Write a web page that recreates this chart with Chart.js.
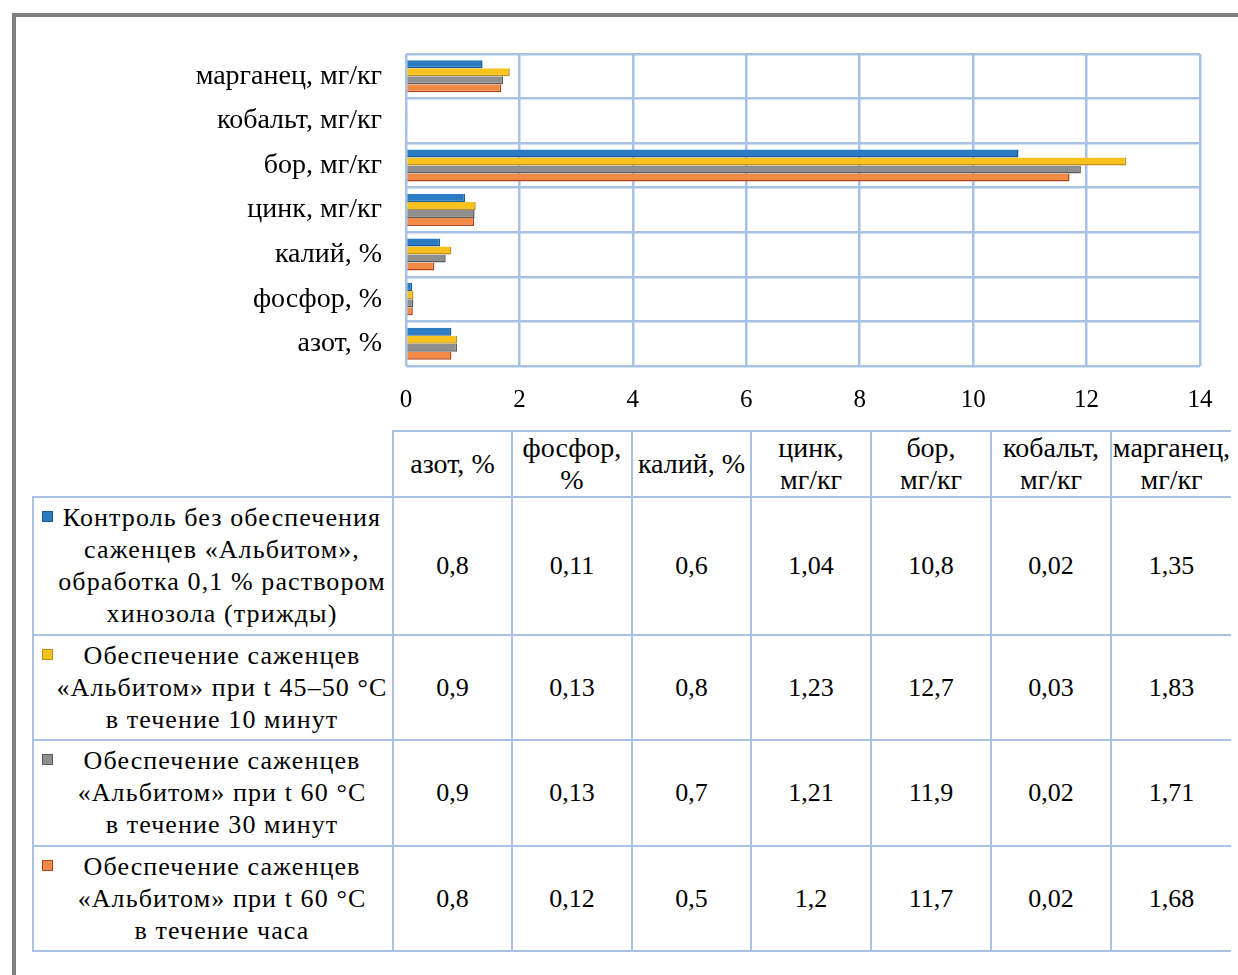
<!DOCTYPE html>
<html lang="ru">
<head>
<meta charset="utf-8">
<script src="https://cdn.jsdelivr.net/npm/chart.js@4.4.1/dist/chart.umd.min.js"></script>
<style>
  html, body { margin: 0; padding: 0; background: #fff; }
  body { width: 1238px; height: 975px; position: relative; overflow: hidden;
         font-family: "Liberation Serif", "Times New Roman", serif; color: #000; }
  .frame-top { position: absolute; left: 12px; top: 13px; width: 1226px; height: 4px; background: #808080; }
  .frame-left { position: absolute; left: 12px; top: 13px; width: 4px; height: 962px; background: #808080; }
  #chartBox { position: absolute; left: 0; top: 0; width: 1238px; height: 425px; }
  table.data { position: absolute; left: 32px; top: 430px; border-collapse: collapse;
               table-layout: fixed; font-size: 26px; line-height: 32px; }
  table.data td, table.data th { border: 2px solid #a8c2e6; padding: 0; text-align: center;
               vertical-align: middle; font-weight: normal; }
  table.data th { font-size: 28px; line-height: 32px; overflow: visible; white-space: normal; }
  table.data th.blank { border-top: none; border-left: none; }
  table.data .last { border-right: none; }
  .unit { white-space: nowrap; }
  table.data td.series { position: relative; letter-spacing: 1.1px; padding: 0 2px 0 20px; white-space: nowrap; }
  .key { position: absolute; left: 8px; top: 13px; width: 9px; height: 9px; }
</style>
</head>
<body>
<div class="frame-top"></div>
<div class="frame-left"></div>
<div id="chartBox"><canvas id="chart"></canvas></div>
<table class="data" id="dataTable"></table>
<script>
// Показатели (в порядке столбцов таблицы)
const categories = ["азот, %", "фосфор, %", "калий, %", "цинк, мг/кг", "бор, мг/кг", "кобальт, мг/кг", "марганец, мг/кг"];

// Варианты опыта (строки подписи)
const seriesNames = [
  ["Контроль без обеспечения", "саженцев «Альбитом»,", "обработка 0,1 % раствором", "хинозола (трижды)"],
  ["Обеспечение саженцев", "«Альбитом» при t 45–50 °C", "в течение 10 минут"],
  ["Обеспечение саженцев", "«Альбитом» при t 60 °C", "в течение 30 минут"],
  ["Обеспечение саженцев", "«Альбитом» при t 60 °C", "в течение часа"]
];

// Значения по вариантам
const controlValues = [0.8, 0.11, 0.6, 1.04, 10.8, 0.02, 1.35];
const heat4550x10Values = [0.9, 0.13, 0.8, 1.23, 12.7, 0.03, 1.83];
const heat60x30Values = [0.9, 0.13, 0.7, 1.21, 11.9, 0.02, 1.71];
const heat60x60Values = [0.8, 0.12, 0.5, 1.2, 11.7, 0.02, 1.68];

// Деления оси значений
const xTicks = [0, 2, 4, 6, 8, 10, 12, 14];

const seriesValues = [controlValues, heat4550x10Values, heat60x30Values, heat60x60Values];
const fills = ["#2b7bc3", "#f7c21d", "#8f8f8f", "#f08a45"];
const edges = ["#1c5a96", "#c0901a", "#5b5b5b", "#b4421d"];
const gridColor = "#a8c2e6";
const serif = '"Liberation Serif", "Times New Roman", serif';
const fmt = v => String(v).replace(".", ",");

// На диаграмме показатели идут снизу вверх
const chartLabels = categories.slice().reverse();

new Chart(document.getElementById("chart"), {
  type: "bar",
  data: {
    labels: chartLabels,
    datasets: seriesValues.map((vals, i) => ({
      label: seriesNames[i].join(" "),
      data: vals.slice().reverse(),
      backgroundColor: fills[i],
      borderColor: edges[i],
      borderWidth: { top: 0, left: 0, right: 1.5, bottom: 1.5 },
      borderSkipped: false,
      categoryPercentage: 0.72,
      barPercentage: 1.0
    }))
  },
  options: {
    indexAxis: "y",
    responsive: true,
    maintainAspectRatio: false,
    animation: false,
    layout: { padding: { top: 54, right: 38, left: 0, bottom: 0 } },
    plugins: { legend: { display: false }, tooltip: { enabled: false } },
    scales: {
      x: {
        min: 0, max: 14,
        afterBuildTicks: s => { s.ticks = xTicks.map(v => ({ value: v })); },
        afterFit: s => { s.height = 59; },
        grid: { color: gridColor, lineWidth: 2.5, drawTicks: false },
        border: { display: false },
        ticks: { color: "#000", padding: 19, font: { family: serif, size: 25 } }
      },
      y: {
        afterFit: s => { s.width = 406; },
        grid: { color: gridColor, lineWidth: 2.5, drawTicks: false, offset: true },
        border: { display: false },
        ticks: { color: "#000", padding: 24, font: { family: serif, size: 28 } }
      }
    }
  }
});

// Таблица данных под диаграммой
const table = document.getElementById("dataTable");
const colW = [360, 119, 120, 119, 120, 120, 120, 120];
const cg = document.createElement("colgroup");
colW.forEach(w => { const c = document.createElement("col"); c.style.width = w + "px"; cg.appendChild(c); });
table.appendChild(cg);

const head = document.createElement("tr");
head.style.height = "66px";
const blank = document.createElement("th"); blank.className = "blank"; head.appendChild(blank);
categories.forEach((c, j) => {
  const th = document.createElement("th");
  const cut = c.indexOf(", ");
  th.appendChild(document.createTextNode(c.slice(0, cut + 1) + " "));
  const unit = document.createElement("span");
  unit.className = "unit";
  unit.textContent = c.slice(cut + 2);
  th.appendChild(unit);
  if (j === categories.length - 1) th.className = "last";
  head.appendChild(th);
});
table.appendChild(head);

const rowH = [138, 105, 106, 105];
seriesValues.forEach((vals, i) => {
  const tr = document.createElement("tr");
  tr.style.height = rowH[i] + "px";
  const td = document.createElement("td");
  td.className = "series";
  const key = document.createElement("span");
  key.className = "key";
  key.style.background = fills[i];
  key.style.border = "1px solid " + edges[i];
  td.appendChild(key);
  seriesNames[i].forEach((line, k) => {
    if (k) td.appendChild(document.createElement("br"));
    td.appendChild(document.createTextNode(line));
  });
  tr.appendChild(td);
  vals.forEach((v, j) => {
    const c = document.createElement("td");
    c.textContent = fmt(v);
    if (j === vals.length - 1) c.className = "last";
    tr.appendChild(c);
  });
  table.appendChild(tr);
});
</script>
</body>
</html>
